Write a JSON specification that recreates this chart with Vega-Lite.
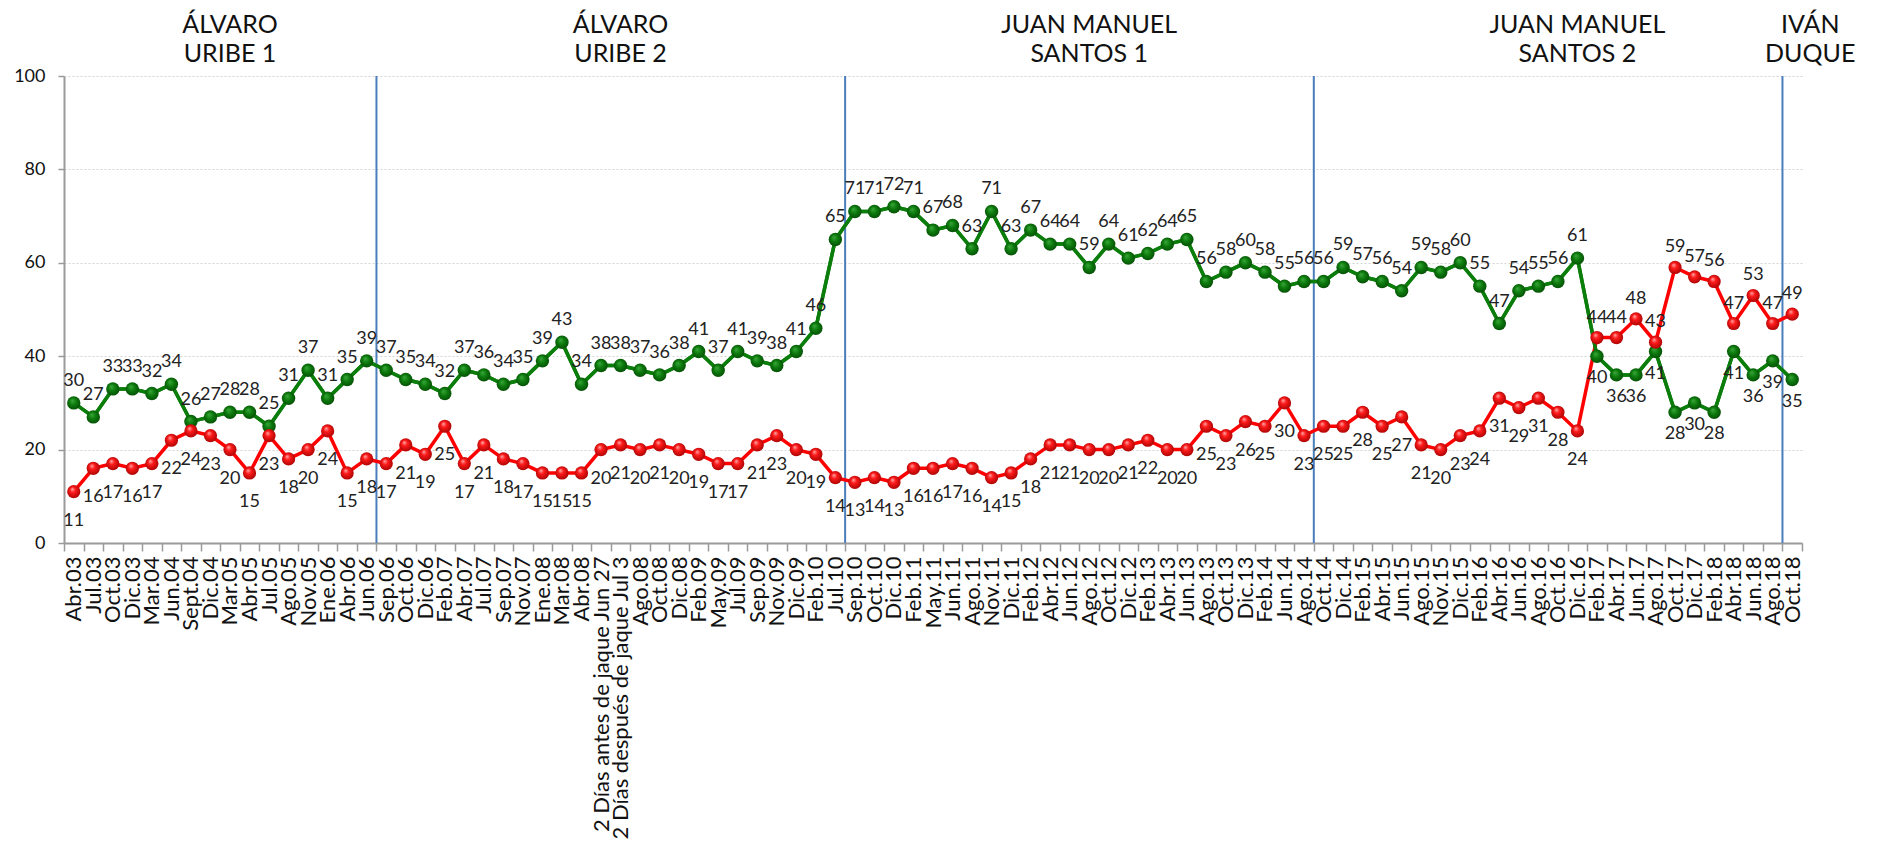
{
  "$schema": "https://vega.github.io/schema/vega-lite/v6.json",
  "width": 1738,
  "height": 467,
  "autosize": {"type": "none"},
  "padding": {"left": 64, "top": 76, "right": 82, "bottom": 308},
  "background": "white",
  "config": {
    "font": "Lato",
    "view": {"stroke": null},
    "axisX": {
      "title": null,
      "tickBand": "extent",
      "domainColor": "#9a9a9a",
      "domainWidth": 2,
      "tickColor": "#9a9a9a",
      "tickWidth": 1.5,
      "tickSize": 8,
      "labelAngle": 270,
      "labelFontSize": 22,
      "labelColor": "#111111",
      "labelPadding": 5,
      "labelOverlap": false,
      "labelBound": false,
      "labelFlush": false,
      "labelLimit": 400,
      "grid": false
    },
    "axisY": {
      "title": null,
      "domainColor": "#9a9a9a",
      "domainWidth": 2,
      "tickColor": "#9a9a9a",
      "tickWidth": 1.5,
      "tickSize": 6,
      "labelFontSize": 18,
      "labelColor": "#111111",
      "labelPadding": 13,
      "labelOverlap": false,
      "grid": true,
      "gridColor": "#d4d4d4",
      "gridDash": [2, 2],
      "gridWidth": 1
    }
  },
  "datasets": {
    "encuesta": [
      {"periodo": "Abr.03", "verde": 30, "rojo": 11},
      {"periodo": "Jul.03", "verde": 27, "rojo": 16},
      {"periodo": "Oct.03", "verde": 33, "rojo": 17},
      {"periodo": "Dic.03", "verde": 33, "rojo": 16},
      {"periodo": "Mar.04", "verde": 32, "rojo": 17},
      {"periodo": "Jun.04", "verde": 34, "rojo": 22},
      {"periodo": "Sept.04", "verde": 26, "rojo": 24},
      {"periodo": "Dic.04", "verde": 27, "rojo": 23},
      {"periodo": "Mar.05", "verde": 28, "rojo": 20},
      {"periodo": "Abr.05", "verde": 28, "rojo": 15},
      {"periodo": "Jul.05", "verde": 25, "rojo": 23},
      {"periodo": "Ago.05", "verde": 31, "rojo": 18},
      {"periodo": "Nov.05", "verde": 37, "rojo": 20},
      {"periodo": "Ene.06", "verde": 31, "rojo": 24},
      {"periodo": "Abr.06", "verde": 35, "rojo": 15},
      {"periodo": "Jun.06", "verde": 39, "rojo": 18},
      {"periodo": "Sep.06", "verde": 37, "rojo": 17},
      {"periodo": "Oct.06", "verde": 35, "rojo": 21},
      {"periodo": "Dic.06", "verde": 34, "rojo": 19},
      {"periodo": "Feb.07", "verde": 32, "rojo": 25},
      {"periodo": "Abr.07", "verde": 37, "rojo": 17},
      {"periodo": "Jul.07", "verde": 36, "rojo": 21},
      {"periodo": "Sep.07", "verde": 34, "rojo": 18},
      {"periodo": "Nov.07", "verde": 35, "rojo": 17},
      {"periodo": "Ene.08", "verde": 39, "rojo": 15},
      {"periodo": "Mar.08", "verde": 43, "rojo": 15},
      {"periodo": "Abr.08", "verde": 34, "rojo": 15},
      {"periodo": "2 Días antes de jaque Jun 27", "verde": 38, "rojo": 20},
      {"periodo": "2 Días después de jaque Jul 3", "verde": 38, "rojo": 21},
      {"periodo": "Ago.08", "verde": 37, "rojo": 20},
      {"periodo": "Oct.08", "verde": 36, "rojo": 21},
      {"periodo": "Dic.08", "verde": 38, "rojo": 20},
      {"periodo": "Feb.09", "verde": 41, "rojo": 19},
      {"periodo": "May.09", "verde": 37, "rojo": 17},
      {"periodo": "Jul.09", "verde": 41, "rojo": 17},
      {"periodo": "Sep.09", "verde": 39, "rojo": 21},
      {"periodo": "Nov.09", "verde": 38, "rojo": 23},
      {"periodo": "Dic.09", "verde": 41, "rojo": 20},
      {"periodo": "Feb.10", "verde": 46, "rojo": 19},
      {"periodo": "Jul.10", "verde": 65, "rojo": 14},
      {"periodo": "Sep.10", "verde": 71, "rojo": 13},
      {"periodo": "Oct.10", "verde": 71, "rojo": 14},
      {"periodo": "Dic.10", "verde": 72, "rojo": 13},
      {"periodo": "Feb.11", "verde": 71, "rojo": 16},
      {"periodo": "May.11", "verde": 67, "rojo": 16},
      {"periodo": "Jun.11", "verde": 68, "rojo": 17},
      {"periodo": "Ago.11", "verde": 63, "rojo": 16},
      {"periodo": "Nov.11", "verde": 71, "rojo": 14},
      {"periodo": "Dic.11", "verde": 63, "rojo": 15},
      {"periodo": "Feb.12", "verde": 67, "rojo": 18},
      {"periodo": "Abr.12", "verde": 64, "rojo": 21},
      {"periodo": "Jun.12", "verde": 64, "rojo": 21},
      {"periodo": "Ago.12", "verde": 59, "rojo": 20},
      {"periodo": "Oct.12", "verde": 64, "rojo": 20},
      {"periodo": "Dic.12", "verde": 61, "rojo": 21},
      {"periodo": "Feb.13", "verde": 62, "rojo": 22},
      {"periodo": "Abr.13", "verde": 64, "rojo": 20},
      {"periodo": "Jun.13", "verde": 65, "rojo": 20},
      {"periodo": "Ago.13", "verde": 56, "rojo": 25},
      {"periodo": "Oct.13", "verde": 58, "rojo": 23},
      {"periodo": "Dic.13", "verde": 60, "rojo": 26},
      {"periodo": "Feb.14", "verde": 58, "rojo": 25},
      {"periodo": "Jun.14", "verde": 55, "rojo": 30},
      {"periodo": "Ago.14", "verde": 56, "rojo": 23},
      {"periodo": "Oct.14", "verde": 56, "rojo": 25},
      {"periodo": "Dic.14", "verde": 59, "rojo": 25},
      {"periodo": "Feb.15", "verde": 57, "rojo": 28},
      {"periodo": "Abr.15", "verde": 56, "rojo": 25},
      {"periodo": "Jun.15", "verde": 54, "rojo": 27},
      {"periodo": "Ago.15", "verde": 59, "rojo": 21},
      {"periodo": "Nov.15", "verde": 58, "rojo": 20},
      {"periodo": "Dic.15", "verde": 60, "rojo": 23},
      {"periodo": "Feb.16", "verde": 55, "rojo": 24},
      {"periodo": "Abr.16", "verde": 47, "rojo": 31},
      {"periodo": "Jun.16", "verde": 54, "rojo": 29},
      {"periodo": "Ago.16", "verde": 55, "rojo": 31},
      {"periodo": "Oct.16", "verde": 56, "rojo": 28},
      {"periodo": "Dic.16", "verde": 61, "rojo": 24},
      {"periodo": "Feb.17", "verde": 40, "rojo": 44},
      {"periodo": "Abr.17", "verde": 36, "rojo": 44},
      {"periodo": "Jun.17", "verde": 36, "rojo": 48},
      {"periodo": "Ago.17", "verde": 41, "rojo": 43},
      {"periodo": "Oct.17", "verde": 28, "rojo": 59},
      {"periodo": "Dic.17", "verde": 30, "rojo": 57},
      {"periodo": "Feb.18", "verde": 28, "rojo": 56},
      {"periodo": "Abr.18", "verde": 41, "rojo": 47},
      {"periodo": "Jun.18", "verde": 36, "rojo": 53},
      {"periodo": "Ago.18", "verde": 39, "rojo": 47},
      {"periodo": "Oct.18", "verde": 35, "rojo": 49}
    ],
    "cambios": [
      {"periodo": "Sep.06"},
      {"periodo": "Sep.10"},
      {"periodo": "Oct.14"},
      {"periodo": "Oct.18"}
    ],
    "gobiernos": [
      {"texto": "ÁLVARO\nURIBE 1", "periodo": "Mar.05"},
      {"texto": "ÁLVARO\nURIBE 2", "periodo": "2 Días después de jaque Jul 3"},
      {"texto": "JUAN MANUEL\nSANTOS 1", "periodo": "Ago.12"},
      {"texto": "JUAN MANUEL\nSANTOS 2", "periodo": "Dic.16"}
    ],
    "duque": [
      {"texto": "IVÁN\nDUQUE", "periodo": "Oct.18"}
    ]
  },
  "encoding": {
    "x": {
      "field": "periodo",
      "type": "nominal",
      "sort": null,
      "bandPosition": 0.5,
      "title": null,
      "scale": {"type": "band", "paddingInner": 0, "paddingOuter": 0}
    }
  },
  "layer": [
    {
      "data": {"name": "encuesta"},
      "mark": {"type": "line", "color": "#0b7d0b", "strokeWidth": 3.5},
      "encoding": {
        "y": {
          "field": "verde",
          "type": "quantitative",
          "title": null,
          "scale": {"domain": [0, 100], "nice": false},
          "axis": {"values": [0, 20, 40, 60, 80, 100]}
        }
      }
    },
    {
      "data": {"name": "cambios"},
      "mark": {"type": "rule", "color": "#4a7ebb", "strokeWidth": 2},
      "encoding": {
        "x": {"field": "periodo", "type": "nominal", "sort": null, "bandPosition": 0, "title": null}
      }
    },
    {
      "data": {"name": "encuesta"},
      "mark": {"type": "line", "color": "#ff0000", "strokeWidth": 3.5},
      "encoding": {
        "y": {"field": "rojo", "type": "quantitative", "title": null}
      }
    },
    {
      "data": {"name": "encuesta"},
      "mark": {"type": "line", "color": "#0b7d0b", "strokeWidth": 3.5},
      "encoding": {
        "y": {"field": "verde", "type": "quantitative", "title": null}
      }
    },
    {
      "data": {"name": "encuesta"},
      "mark": {
        "type": "circle",
        "size": 180,
        "opacity": 1,
        "fill": {
          "gradient": "radial",
          "x1": 0.38, "y1": 0.32, "r1": 0,
          "x2": 0.5, "y2": 0.5, "r2": 0.6,
          "stops": [
            {"offset": 0, "color": "#3aa83a"},
            {"offset": 0.45, "color": "#0c7a0c"},
            {"offset": 1, "color": "#054505"}
          ]
        }
      },
      "encoding": {
        "y": {"field": "verde", "type": "quantitative", "title": null}
      }
    },
    {
      "data": {"name": "encuesta"},
      "mark": {
        "type": "circle",
        "size": 175,
        "opacity": 1,
        "fill": {
          "gradient": "radial",
          "x1": 0.38, "y1": 0.3, "r1": 0,
          "x2": 0.5, "y2": 0.5, "r2": 0.6,
          "stops": [
            {"offset": 0, "color": "#ffb0b0"},
            {"offset": 0.35, "color": "#ff1a1a"},
            {"offset": 1, "color": "#9a0000"}
          ]
        }
      },
      "encoding": {
        "y": {"field": "rojo", "type": "quantitative", "title": null}
      }
    },
    {
      "data": {"name": "encuesta"},
      "transform": [{"filter": "datum.verde >= datum.rojo"}],
      "mark": {"type": "text", "fontSize": 18, "color": "#222222", "baseline": "alphabetic", "dy": -17},
      "encoding": {
        "y": {"field": "verde", "type": "quantitative", "title": null},
        "text": {"field": "verde", "type": "quantitative"}
      }
    },
    {
      "data": {"name": "encuesta"},
      "transform": [{"filter": "datum.verde < datum.rojo"}],
      "mark": {"type": "text", "fontSize": 18, "color": "#222222", "baseline": "top", "dy": 13},
      "encoding": {
        "y": {"field": "verde", "type": "quantitative", "title": null},
        "text": {"field": "verde", "type": "quantitative"}
      }
    },
    {
      "data": {"name": "encuesta"},
      "transform": [{"filter": "datum.verde >= datum.rojo"}],
      "mark": {"type": "text", "fontSize": 18, "color": "#222222", "baseline": "top", "dy": 20},
      "encoding": {
        "y": {"field": "rojo", "type": "quantitative", "title": null},
        "text": {"field": "rojo", "type": "quantitative"}
      }
    },
    {
      "data": {"name": "encuesta"},
      "transform": [{"filter": "datum.verde < datum.rojo"}],
      "mark": {"type": "text", "fontSize": 18, "color": "#222222", "baseline": "alphabetic", "dy": -15},
      "encoding": {
        "y": {"field": "rojo", "type": "quantitative", "title": null},
        "text": {"field": "rojo", "type": "quantitative"}
      }
    },
    {
      "data": {"name": "gobiernos"},
      "mark": {"type": "text", "fontSize": 25, "lineHeight": 29, "lineBreak": "\n", "color": "#111111", "align": "center", "baseline": "alphabetic", "dy": -43, "clip": false},
      "encoding": {
        "y": {"datum": 100, "type": "quantitative", "title": null},
        "text": {"field": "texto", "type": "nominal"}
      }
    },
    {
      "data": {"name": "duque"},
      "mark": {"type": "text", "fontSize": 25, "lineHeight": 29, "lineBreak": "\n", "color": "#111111", "align": "center", "baseline": "alphabetic", "dy": -43, "dx": 18, "clip": false},
      "encoding": {
        "y": {"datum": 100, "type": "quantitative", "title": null},
        "text": {"field": "texto", "type": "nominal"}
      }
    }
  ]
}
